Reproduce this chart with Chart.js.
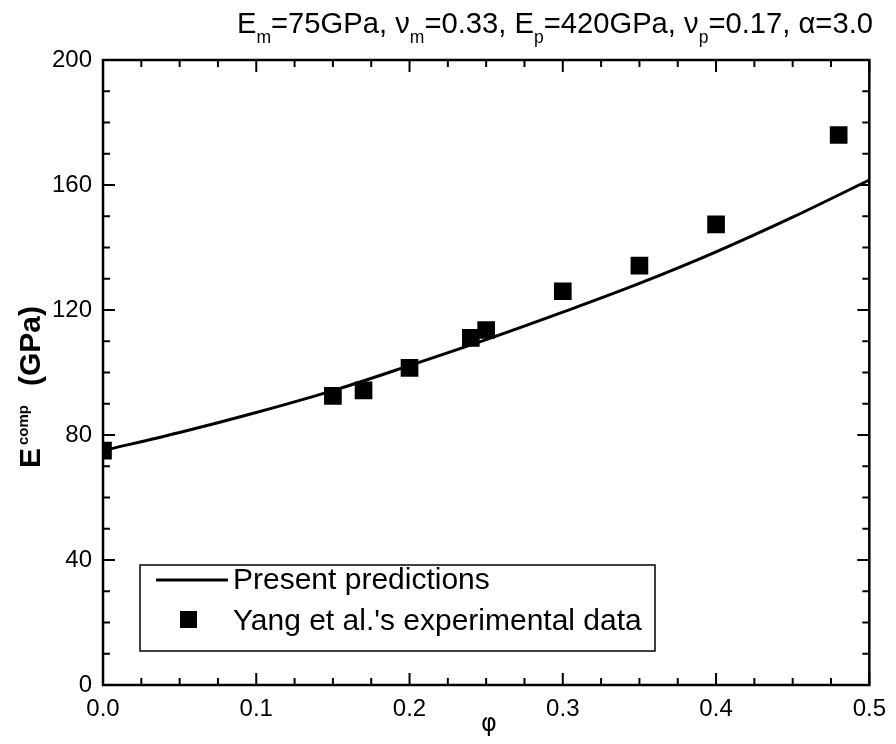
<!DOCTYPE html>
<html>
<head>
<meta charset="utf-8">
<script src="https://cdn.jsdelivr.net/npm/chart.js@4/dist/chart.umd.min.js"></script>
<style>
  html, body { margin: 0; padding: 0; background: #fff; }
  #wrap { width: 896px; height: 744px; }
</style>
</head>
<body>
<div id="wrap"><canvas id="modChart" width="896" height="744"></canvas></div>
<script>
// model curve
const phiCurve = [0, 0.05, 0.1, 0.15, 0.2, 0.25, 0.3, 0.35, 0.4, 0.45, 0.5];
const eCurve = [75, 80.8, 87.2, 94.2, 102.2, 110.5, 119.3, 128.5, 138.6, 149.7, 161.6];

// experimental points
const phiExp = [0, 0.15, 0.17, 0.2, 0.24, 0.25, 0.3, 0.35, 0.4, 0.48];
const eExp = [75, 92.5, 94.3, 101.5, 111.1, 113.6, 126.0, 134.2, 147.4, 176.0];

const seriesNames = ['Present predictions', "Yang et al.'s experimental data"];
const xTicks = [0, 0.1, 0.2, 0.3, 0.4, 0.5];
const yTicks = [0, 40, 80, 120, 160, 200];

const FONT = '"Liberation Sans", Arial, Helvetica, sans-serif';

// title, axis titles, inward ticks, frame and legend
const decorations = {
    id: 'decorations',
    afterDraw(chart) {
        const ctx = chart.ctx;
        const area = chart.chartArea;
        const xs = chart.scales.x;
        const ys = chart.scales.y;
        ctx.save();

        // frame
        ctx.strokeStyle = '#000';
        ctx.lineWidth = 2.5;
        ctx.strokeRect(area.left, area.top, area.right - area.left, area.bottom - area.top);

        // inward ticks on all sides
        ctx.lineWidth = 2;
        ctx.beginPath();
        for (let i = 0; i <= 20; i++) {
            const px = xs.getPixelForValue(i * 0.025);
            const len = (i % 4 === 0) ? 12 : 7;
            ctx.moveTo(px, area.bottom); ctx.lineTo(px, area.bottom - len);
            ctx.moveTo(px, area.top); ctx.lineTo(px, area.top + len);
        }
        for (let i = 0; i <= 20; i++) {
            const py = ys.getPixelForValue(i * 10);
            const len = (i % 4 === 0) ? 12 : 7;
            ctx.moveTo(area.left, py); ctx.lineTo(area.left + len, py);
            ctx.moveTo(area.right, py); ctx.lineTo(area.right - len, py);
        }
        ctx.stroke();

        ctx.fillStyle = '#000';
        ctx.textBaseline = 'alphabetic';

        // title with subscripts, squeezed to the width of the original
        const parts = [
            ['E', 0], ['m', 1], ['=75GPa, \u03bd', 0], ['m', 1], ['=0.33, E', 0], ['p', 1],
            ['=420GPa, \u03bd', 0], ['p', 1], ['=0.17, \u03b1=3.0', 0]
        ];
        const mainF = '30px ' + FONT;
        const subF = '18px ' + FONT;
        let total = 0;
        parts.forEach(p => { ctx.font = p[1] ? subF : mainF; total += ctx.measureText(p[0]).width; });
        const tLeft = 237, tWidth = 636;
        ctx.save();
        ctx.translate(tLeft, 33);
        ctx.scale(tWidth / total, 1);
        let cx = 0;
        parts.forEach(p => {
            ctx.font = p[1] ? subF : mainF;
            ctx.fillText(p[0], cx, p[1] ? 10 : 0);
            cx += ctx.measureText(p[0]).width;
        });
        ctx.restore();

        // y title: E^comp (GPa)
        ctx.save();
        ctx.translate(40, 468);
        ctx.rotate(-Math.PI / 2);
        ctx.font = 'bold 30px ' + FONT;
        ctx.fillText('E', 0, 0);
        ctx.font = 'bold 15px ' + FONT;
        ctx.fillText('comp', 23, -12);
        ctx.font = 'bold 30px ' + FONT;
        ctx.fillText('(GPa)', 82, 0);
        ctx.restore();

        // x title
        ctx.font = '24px "DejaVu Sans", ' + FONT;
        ctx.textAlign = 'center';
        ctx.fillText('\u03c6', 489, 731);

        // legend
        const lx = 140, ly = 565, lw = 515, lh = 86;
        ctx.fillStyle = '#fff';
        ctx.fillRect(lx, ly, lw, lh);
        ctx.strokeStyle = '#000';
        ctx.lineWidth = 1.5;
        ctx.strokeRect(lx, ly, lw, lh);
        ctx.lineWidth = 3;
        ctx.beginPath();
        ctx.moveTo(156, 580); ctx.lineTo(228, 580);
        ctx.stroke();
        ctx.fillStyle = '#000';
        ctx.fillRect(180, 611, 17, 17);
        ctx.textAlign = 'left';
        ctx.font = '30px ' + FONT;
        ctx.fillText(chart.data.datasets[0].label, 233, 589);
        ctx.fillText(chart.data.datasets[1].label, 233, 630);

        ctx.restore();
    }
};

new Chart(document.getElementById('modChart').getContext('2d'), {
    type: 'scatter',
    data: {
        datasets: [
            {
                label: seriesNames[0],
                data: phiCurve.map((x, i) => ({ x: x, y: eCurve[i] })),
                showLine: true,
                borderColor: '#000',
                borderWidth: 3,
                pointRadius: 0,
                cubicInterpolationMode: 'monotone',
                order: 2
            },
            {
                label: seriesNames[1],
                data: phiExp.map((x, i) => ({ x: x, y: eExp[i] })),
                showLine: false,
                pointStyle: 'rect',
                pointRadius: 12.5,
                pointBorderWidth: 0,
                backgroundColor: '#000',
                borderColor: '#000',
                order: 1
            }
        ]
    },
    options: {
        responsive: false,
        animation: false,
        layout: { padding: { top: 60, right: 19, left: 0, bottom: 0 } },
        plugins: {
            legend: { display: false },
            tooltip: { enabled: false },
            title: { display: false }
        },
        scales: {
            x: {
                type: 'linear',
                min: 0, max: 0.5,
                afterBuildTicks: s => { s.ticks = xTicks.map(v => ({ value: v })); },
                afterFit: s => { s.height = 59; },
                grid: { display: false, drawTicks: false },
                border: { display: false },
                ticks: {
                    color: '#000',
                    font: { family: FONT, size: 24 },
                    padding: 10,
                    maxRotation: 0,
                    callback: v => Number(v).toFixed(1)
                }
            },
            y: {
                type: 'linear',
                min: 0, max: 200,
                afterBuildTicks: s => { s.ticks = yTicks.map(v => ({ value: v })); },
                afterFit: s => { s.width = 103; },
                grid: { display: false, drawTicks: false },
                border: { display: false },
                ticks: {
                    color: '#000',
                    font: { family: FONT, size: 24 },
                    padding: 11
                }
            }
        }
    },
    plugins: [decorations]
});
</script>
</body>
</html>
